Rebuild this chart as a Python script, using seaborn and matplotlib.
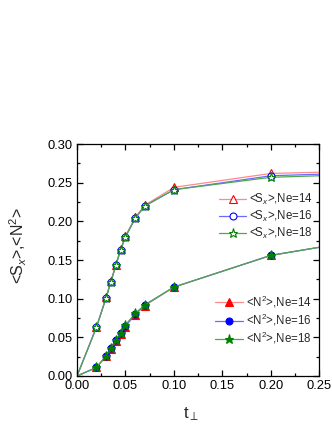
import matplotlib
matplotlib.use("Agg")
import matplotlib.pyplot as plt
import seaborn as sns
import numpy as np
from matplotlib.ticker import MultipleLocator

# ---- data ----
t_perp = [0.0, 0.02, 0.03, 0.035, 0.04, 0.045, 0.05, 0.06, 0.07, 0.10, 0.20, 0.30]
sx_ne14 = [0.0, 0.063, 0.102, 0.123, 0.144, 0.164, 0.181, 0.205, 0.221, 0.244, 0.262, 0.265]
sx_ne16 = [0.0, 0.063, 0.101, 0.122, 0.143, 0.163, 0.180, 0.204, 0.220, 0.241, 0.259, 0.263]
sx_ne18 = [0.0, 0.063, 0.101, 0.122, 0.143, 0.163, 0.180, 0.204, 0.220, 0.241, 0.257, 0.261]
n2_ne14 = [0.0, 0.011, 0.026, 0.035, 0.045, 0.054, 0.064, 0.079, 0.091, 0.115, 0.156, 0.177]
n2_ne16 = [0.0, 0.011, 0.026, 0.036, 0.046, 0.055, 0.065, 0.080, 0.092, 0.115, 0.156, 0.177]
n2_ne18 = [0.0, 0.011, 0.026, 0.036, 0.046, 0.056, 0.066, 0.081, 0.092, 0.115, 0.156, 0.177]
labels_sx = [r"<S$_x$>,Ne=14", r"<S$_x$>,Ne=16", r"<S$_x$>,Ne=18"]
labels_n2 = [r"<N$^2$>,Ne=14", r"<N$^2$>,Ne=16", r"<N$^2$>,Ne=18"]
x_ticks = [0.00, 0.05, 0.10, 0.15, 0.20, 0.25]
y_ticks = [0.00, 0.05, 0.10, 0.15, 0.20, 0.25, 0.30]

sns.set_theme(style="ticks")
plt.rcParams['font.family'] = ['Liberation Sans', 'DejaVu Sans']
plt.rcParams['mathtext.fontset'] = 'custom'
plt.rcParams['mathtext.rm'] = 'Liberation Sans'
plt.rcParams['mathtext.it'] = 'Liberation Sans:italic'

fig = plt.figure(figsize=(3.32, 4.30), dpi=100)
ax = fig.add_axes([0.232, 0.1256, 0.730, 0.5394])

line_cols = ['#FF8A8A', '#6A6AFF', '#4FA84F']
mark_cols = ['#FF0000', '#0000FF', '#008000']
markers = ['^', 'o', '*']
msizes = [5.5, 5.0, 6.5]

sx_series = [sx_ne14, sx_ne16, sx_ne18]
n2_series = [n2_ne14, n2_ne16, n2_ne18]
mk_idx = list(range(1, len(t_perp) - 1))

h_sx, h_n2 = [], []
for i in range(3):
    sns.lineplot(x=t_perp, y=sx_series[i], ax=ax, color=line_cols[i], lw=0.9,
                 marker=markers[i], markersize=msizes[i], markerfacecolor='white',
                 markeredgecolor=mark_cols[i], markeredgewidth=0.8,
                 markevery=mk_idx, estimator=None, sort=False)
    h_sx.append(ax.lines[-1])
for i in range(3):
    sns.lineplot(x=t_perp, y=n2_series[i], ax=ax, color=line_cols[i], lw=0.9,
                 marker=markers[i], markersize=msizes[i], markerfacecolor=mark_cols[i],
                 markeredgecolor=mark_cols[i], markeredgewidth=0.8,
                 markevery=mk_idx, estimator=None, sort=False)
    h_n2.append(ax.lines[-1])

ax.set_xlim(0, 0.25)
ax.set_ylim(0, 0.30)
ax.set_xticks(x_ticks)
ax.set_yticks(y_ticks)
ax.set_xticklabels([f"{v:.2f}" for v in x_ticks])
ax.set_yticklabels([f"{v:.2f}" for v in y_ticks])
ax.xaxis.set_minor_locator(MultipleLocator(0.025))
ax.yaxis.set_minor_locator(MultipleLocator(0.025))
ax.tick_params(which='both', direction='in', top=True, right=True, width=0.9,
               labelsize=9.3, colors='black', pad=3)
ax.tick_params(which='major', length=4)
ax.tick_params(which='minor', length=2.5)
for s in ax.spines.values():
    s.set_linewidth(0.9)
    s.set_color('black')

ax.set_xlabel(r"t$_\perp$", fontsize=12)
ax.set_ylabel(r"<S$_x$>,<N$^2$>", fontsize=11.5)
ax.xaxis.set_label_coords(0.47, -0.125)
ax.yaxis.set_label_coords(-0.2, 0.565)

leg1 = ax.legend(h_sx, labels_sx, loc='upper left', bbox_to_anchor=(0.585, 0.794),
                 frameon=False, fontsize=8.3, handlelength=2.4, handletextpad=0.25,
                 labelspacing=0.18, borderpad=0, borderaxespad=0)
ax.add_artist(leg1)
ax.legend(h_n2, labels_n2, loc='upper left', bbox_to_anchor=(0.57, 0.355),
          frameon=False, fontsize=8.3, handlelength=2.4, handletextpad=0.25,
          labelspacing=0.18, borderpad=0, borderaxespad=0)

fig.savefig("out.png", dpi=100)
